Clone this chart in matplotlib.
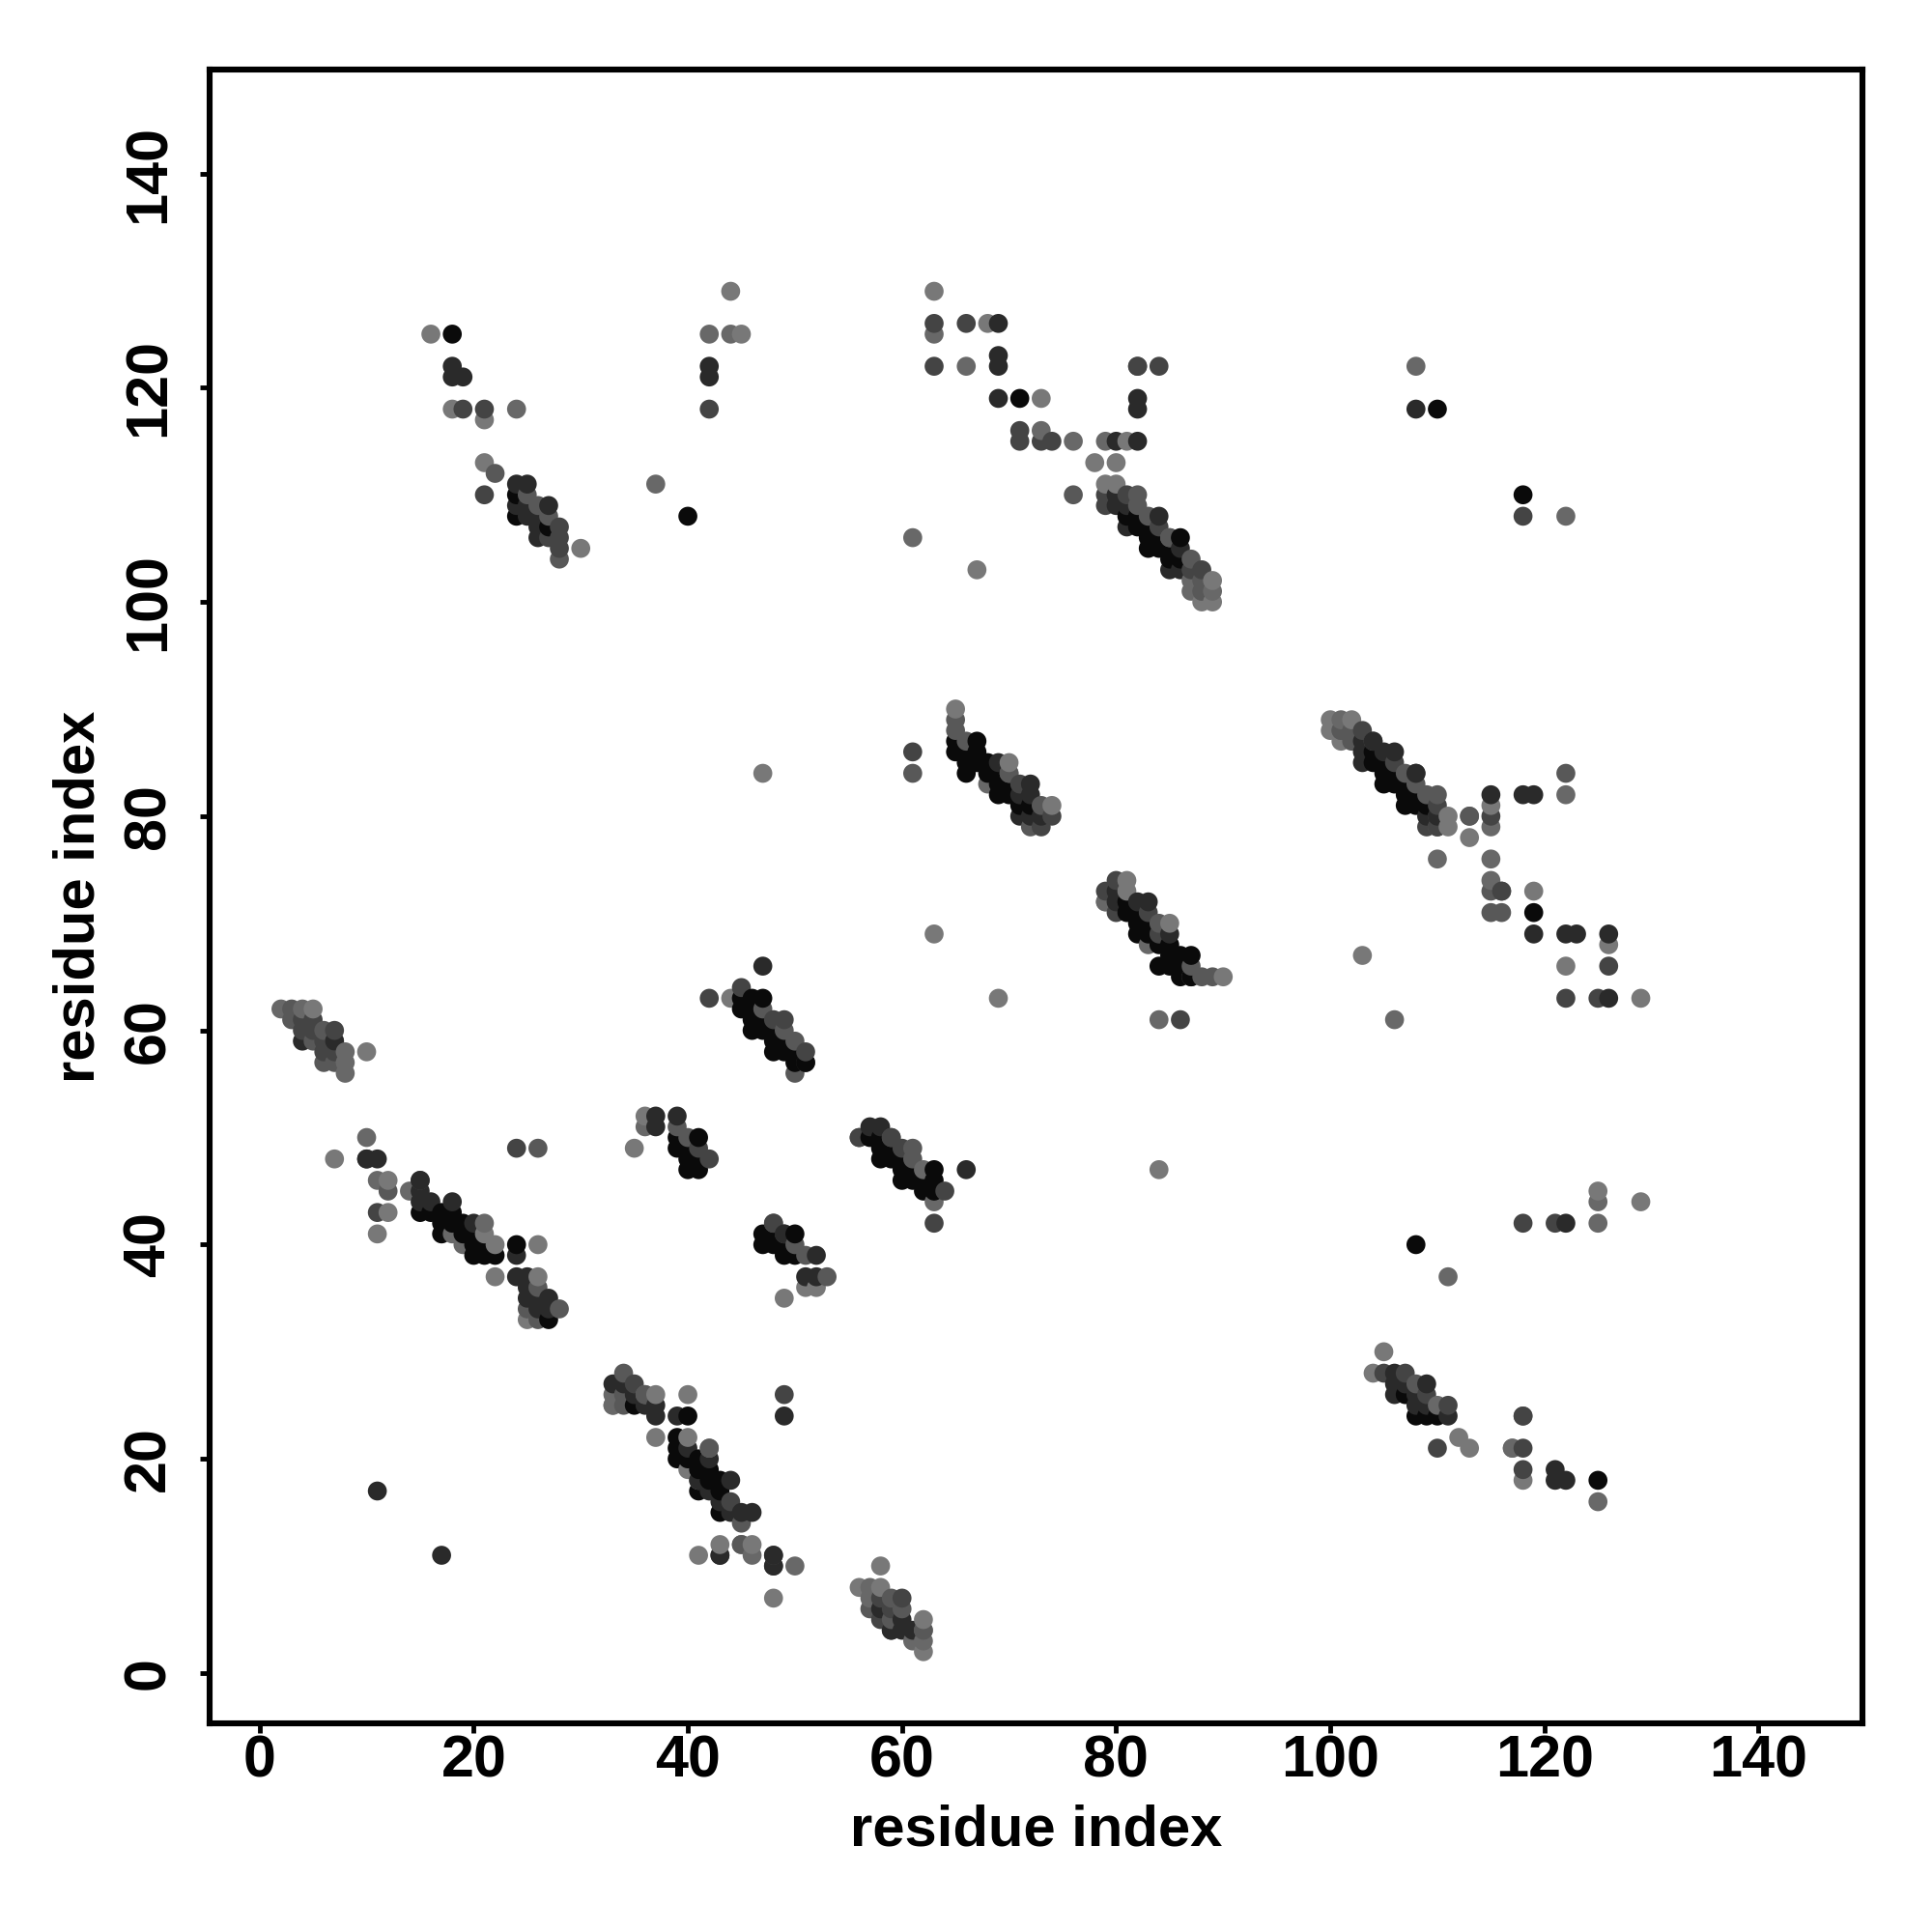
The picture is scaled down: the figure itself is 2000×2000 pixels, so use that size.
import numpy as np
import matplotlib
matplotlib.use('Agg')
import matplotlib.pyplot as plt

# contacts (i, j) grouped by how strong they are, 1 = weakest
level_1 = [(5,62),(10,58),(7,48),(12,46),(12,43),(11,41),(22,37),(21,41),(22,40),(26,40),(26,37),(25,33),
           (37,26),(40,26),(33,25),(37,22),(40,22),(42,21),(40,19),(41,18),(43,12),(46,12),(41,11),(58,10),(56,8),(58,8),
           (62,5),(62,2),(48,7),(36,52),(35,49),(52,36),(51,36),(49,35),(47,84),(63,69),(69,63),(44,63),(65,90),(74,81),
           (70,85),(81,74),(85,70),(90,65),(81,73),(79,72),(105,30),(104,28),(113,21),(112,22),(117,21),(118,18),
           (129,44),(125,45),(84,47),(100,89),(102,89),(100,88),(101,87),(111,80),(115,81),(113,78),(119,73),(103,67),
           (122,66),(129,63),(111,79),(16,125),(18,118),(21,117),(21,113),(30,105),(45,125),(44,129),(63,129),(68,126),
           (73,119),(81,115),(78,113),(80,113),(79,111),(80,111),(89,102),(88,100),(89,100),(67,103),(126,68)]
level_2 = [(2,62),(4,62),(8,58),(8,57),(8,56),(10,50),(11,46),(14,45),(21,42),(19,40),(18,41),(33,25),(36,26),(33,26),
           (45,12),(46,11),(50,10),(57,8),(57,7),(62,4),(62,3),(61,3),(36,51),(62,47),(63,44),(68,83),(70,84),(79,72),
           (84,61),(83,68),(101,89),(101,88),(110,76),(115,76),(115,79),(115,74),(113,80),(122,82),(106,61),
           (85,106),(61,106),(66,122),(108,122),(122,108),(24,118),(37,111),(42,125),(44,125),(63,125),(73,116),(76,115),
           (79,115),(82,122),(87,102),(87,101),(88,101),(89,101),(118,24),(117,21),(125,44),(125,42),(111,37),
           (125,16),(110,25)]
level_3 = [(3,62),(3,61),(6,60),(5,59),(7,59),(6,57),(7,57),(26,49),(12,45),(26,36),(25,34),(26,33),(28,34),(34,28),(34,26),
           (34,25),(59,7),(57,6),(60,6),(59,5),(62,4),(45,14),(42,21),(45,12),(36,26),(39,51),(40,50),(47,62),(49,60),
           (50,59),(50,56),(48,42),(53,37),(50,40),(51,39),(56,50),(59,50),(61,49),(61,48),(66,87),(65,89),(65,88),
           (70,84),(73,81),(72,79),(87,65),(88,65),(89,65),(84,70),(87,66),(104,87),(102,87),(102,88),(101,88),(107,84),
           (108,83),(109,82),(110,82),(110,79),(115,73),(116,73),(115,71),(116,71),(122,84),(113,80),(61,84),(108,27),
           (22,112),(25,110),(26,109),(27,108),(28,104),(76,110),(83,108),(85,106),(82,110),(82,109),(87,104),(88,102),(88,101)]
level_4 = [(4,61),(5,61),(4,60),(5,60),(7,60),(6,59),(6,58),(7,58),(21,110),(19,118),(21,118),(42,118),(63,126),(63,122),
           (66,126),(71,116),(71,115),(73,115),(74,115),(82,122),(84,122),(118,108),(79,110),(79,109),(81,110),(87,103),
           (88,103),(28,106),(28,105),(28,107),(27,106),(10,48),(11,43),(15,46),(24,49),(48,11),(48,10),(49,26),(43,11),
           (35,27),(44,16),(59,6),(60,7),(58,7),(58,5),(59,4),(42,63),(45,64),(48,61),(49,61),(51,58),(42,48),(41,49),(49,41),
           (56,50),(59,50),(64,45),(63,42),(48,42),(60,49),(74,80),(73,79),(71,83),(80,74),(79,73),(80,71),(83,71),(103,88),(106,85),
           (109,79),(110,80),(110,79),(110,81),(115,80),(108,84),(125,63),(122,63),(126,66),(118,42),(121,42),(105,28),(107,28),(110,21),
           (118,21),(118,19),(118,24),(111,25),(109,26),(84,69),(84,107),(61,86),(86,61),(116,73)]
level_5 = [(7,59),(4,59),(10,48),(11,48),(15,46),(15,45),(15,44),(16,44),(18,44),(20,42),(24,39),(24,37),(25,37),(25,36),
           (25,35),(26,35),(26,34),(27,35),(27,34),(33,27),(34,27),(35,26),(36,25),(37,25),(37,24),(39,24),(40,21),(42,20),(44,18),(43,16),
           (42,17),(44,15),(45,15),(46,15),(41,18),(48,11),(48,10),(49,24),(43,11),(60,5),(60,4),(61,4),(59,4),(58,6),
           (37,52),(37,51),(39,52),(51,37),(52,37),(52,39),(49,41),(57,51),(58,51),(66,47),(11,17),(17,11),(47,66),(51,57),
           (69,85),(72,83),(72,82),(71,82),(71,80),(72,80),(73,80),(80,72),(83,72),(82,72),(80,73),(85,69),(103,87),(103,86),(105,86),(103,85),(104,87),
           (106,86),(108,84),(109,80),(110,80),(115,82),(118,82),(119,82),(119,69),(122,69),(123,69),(126,69),(126,63),(122,42),
           (106,28),(106,27),(107,27),(109,27),(106,26),(108,26),(108,25),(109,25),(111,24),(121,19),(121,18),(122,18),(18,122),(18,121),(19,121),
           (42,122),(42,121),(69,126),(69,123),(69,122),(69,119),(80,115),(82,115),(82,118),(82,119),(108,118),(24,111),(25,111),
           (24,109),(25,109),(27,109),(25,108),(26,108),(26,107),(26,106),(80,110),(80,109),(81,109),(81,107),(84,108),(85,103),(86,103),(86,105)]
level_6 = [(24,40),(15,43),(16,43),(17,43),(18,43),(17,42),(18,42),(19,42),(17,41),(19,41),(20,41),(20,40),(21,40),(20,39),
           (21,39),(22,39),(27,33),(35,25),(40,24),(39,22),(39,21),(39,20),(40,20),(41,20),(41,19),(42,19),(42,18),(43,18),(41,17),
           (43,17),(43,15),(45,63),(46,63),(47,63),(45,62),(46,62),(46,61),(47,61),(46,60),(47,60),(48,60),(48,59),(49,59),
           (48,58),(49,58),(50,58),(50,57),(51,57),(39,50),(41,50),(39,49),(40,49),(40,48),(41,48),(40,47),(41,47),(57,50),
           (58,50),(58,49),(59,49),(58,48),(59,48),(60,48),(60,47),(61,47),(63,47),(60,46),(61,46),(62,46),(63,46),(62,45),
           (63,45),(47,41),(48,41),(50,41),(47,40),(48,40),(49,40),(49,39),(50,39),(65,87),(67,87),(65,86),(66,86),(67,86),
           (66,85),(67,85),(68,85),(66,84),(68,84),(69,84),(69,83),(70,83),(69,82),(70,82),(71,81),(72,81),(81,72),(81,71),(82,71),
           (82,70),(83,70),(82,69),(83,69),(84,68),(85,68),(85,67),(86,67),(87,67),(84,66),(85,66),(86,66),(86,65),(87,65),
           (104,86),(104,85),(105,85),(105,84),(106,84),(105,83),(106,83),(107,83),(107,82),(108,82),(107,81),(108,81),(109,81),
           (107,26),(108,24),(109,24),(110,24),(108,40),(125,18),(118,110),(119,71),(18,125),(40,108),(71,119),
           (110,118),(81,108),(82,108),(82,107),(83,107),(83,106),(84,106),(86,106),(83,105),(84,105),(85,105),(85,104),(86,104),
           (24,110),(24,108),(27,107)]

levels = [level_1, level_2, level_3, level_4, level_5, level_6]
grays = [0x78, 0x68, 0x58, 0x44, 0x2a, 0x0a]
ticks = np.arange(0, 141, 20)

xs, ys, cs = [], [], []
for pts, g in zip(levels, grays):
    for a, b in pts:
        xs.append(a)
        ys.append(b)
        cs.append(g / 255)
xs = np.array(xs)
ys = np.array(ys)
cs = np.array(cs)
# later residues sit on top, like the original plot order
order = np.lexsort((ys, xs))

plt.rcParams['font.family'] = ['Liberation Sans', 'DejaVu Sans']
plt.rcParams['font.weight'] = 'bold'

fig = plt.figure(figsize=(20, 20), dpi=100)
ax = fig.add_axes([0.1083, 0.108, 0.8557, 0.856])

ax.scatter(xs[order], ys[order], s=200, c=cs[order], cmap='gray', vmin=0, vmax=1, linewidths=0, clip_on=False)

ax.set_xlim(-4.7, 149.7)
ax.set_ylim(-4.69, 149.7)
ax.set_xticks(ticks)
ax.set_yticks(ticks)
ax.tick_params(axis='x', length=7, width=3.5, labelsize=44, pad=1)
ax.tick_params(axis='y', length=7, width=3.5, labelsize=44, pad=17)
for lab in ax.get_yticklabels():
    lab.set_rotation(90)
    lab.set_va('center')
for s in ax.spines.values():
    s.set_linewidth(4.4)

ax.set_xlabel('residue index', fontsize=43, fontweight='bold', va='center')
ax.set_ylabel('residue index', fontsize=43, fontweight='bold', va='center')
ax.xaxis.set_label_coords(0.5, -0.0649)
ax.yaxis.set_label_coords(-0.0788, 0.5)

fig.savefig('out.png', dpi=100)
